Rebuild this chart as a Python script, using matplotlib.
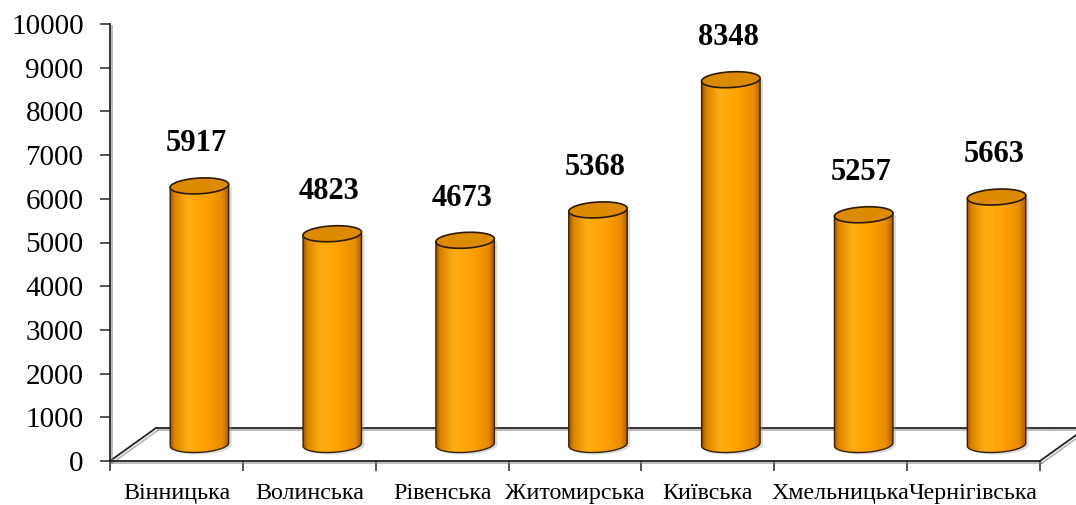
import numpy as np
import matplotlib
matplotlib.use("Agg")
import matplotlib.pyplot as plt
from matplotlib.path import Path
from matplotlib.patches import PathPatch
from matplotlib.colors import LinearSegmentedColormap
import matplotlib.patheffects as pe
import matplotlib.transforms as mtransforms

plt.rcParams['font.family'] = ['Liberation Serif', 'DejaVu Serif']

regions = ['Вінницька', 'Волинська', 'Рівенська', 'Житомирська',
           'Київська', 'Хмельницька', 'Чернігівська']
values = [5917, 4823, 4673, 5368, 8348, 5257, 5663]
yticks = list(range(0, 10001, 1000))

# 3d floor depth (x in category units, y in value units)
depth_x = 0.346
depth_y = 755
cyl_w = 0.44
ell_h = 360
tilt = 35   # slight rotation of the end caps

fig = plt.figure(figsize=(10.76, 5.05), dpi=100)
ax = fig.add_axes([110 / 1076, 44 / 505, 930 / 1076, 437 / 505])

cyl_cmap = LinearSegmentedColormap.from_list('cyl', [
    (0.0, '#9a5200'), (0.07, '#d98200'), (0.3, '#ffad14'),
    (0.6, '#ffa200'), (0.88, '#e98c00'), (1.0, '#a85a00')])
grad = np.linspace(0, 1, 256)[None, :]

line_shadow = [pe.SimpleLineShadow(offset=(1.5, -1.5), shadow_color='#888888', alpha=0.6),
               pe.Normal()]

# floor of the 3d plot
n = len(regions)
floor_kw = dict(color='#222222', lw=1.3, zorder=1, clip_on=False, path_effects=line_shadow)
ax.plot([0, depth_x], [0, depth_y], **floor_kw)
ax.plot([depth_x, n + depth_x], [depth_y, depth_y], **floor_kw)
ax.plot([n, n + depth_x], [0, depth_y], **floor_kw)

shadow_tr = mtransforms.offset_copy(ax.transData, fig, x=3, y=-2, units='dots')


def cap(cx, cy, t):
    return np.column_stack([cx + cyl_w / 2 * np.cos(t),
                            cy + ell_h / 2 * np.sin(t) + tilt * np.cos(t)])


base = depth_y / 2
t_low = np.linspace(np.pi, 2 * np.pi, 60)
t_full = np.linspace(0, 2 * np.pi, 120)
for i, v in enumerate(values):
    cx = i + 0.5 + depth_x / 2
    top = base + v
    left, right = cx - cyl_w / 2, cx + cyl_w / 2
    arc = cap(cx, base, t_low)
    body = np.vstack([arc, [[right, top + tilt], [left, top - tilt]], arc[:1]])
    body_path = Path(body, closed=True)

    shadow = PathPatch(body_path, facecolor='#999999', edgecolor='none', alpha=0.35,
                       transform=shadow_tr, zorder=2)
    ax.add_patch(shadow)

    clip = PathPatch(body_path, transform=ax.transData, facecolor='none', edgecolor='none')
    ax.add_patch(clip)
    im = ax.imshow(grad, extent=[left, right, base - ell_h, top + tilt], cmap=cyl_cmap,
                   aspect='auto', interpolation='bicubic', zorder=3)
    im.set_clip_path(clip)

    outline = np.vstack([[[left, top - tilt]], arc, [[right, top + tilt]]])
    ax.plot(outline[:, 0], outline[:, 1], color='#3a2200', lw=1.0, zorder=4)
    ax.add_patch(PathPatch(Path(cap(cx, top, t_full), closed=True), facecolor='#dc8a00',
                           edgecolor='#2e1a00', lw=1.2, zorder=5))

    ax.annotate(f'{v}', (cx, top), xytext=(-2, 20), textcoords='offset points',
                ha='center', va='bottom', fontsize=22, fontweight='bold', zorder=6)

ax.set_xlim(0, n)
ax.set_ylim(0, 10000)

for s in ['top', 'right']:
    ax.spines[s].set_visible(False)
for s in ['left', 'bottom']:
    ax.spines[s].set_color('#222222')
    ax.spines[s].set_linewidth(1.3)
    ax.spines[s].set_path_effects(line_shadow)

ax.set_yticks(yticks)
ax.set_yticklabels([str(y) for y in yticks])
ax.tick_params(axis='y', length=7, width=1.1, color='#222222', pad=12, labelsize=21)

ax.set_xticks(range(n + 1))
ax.set_xticklabels([])
ax.set_xticks([i + 0.5 for i in range(n)], minor=True)
ax.set_xticklabels(regions, minor=True)
ax.tick_params(axis='x', which='major', length=7, width=1.1, color='#222222')
ax.tick_params(axis='x', which='minor', length=0, pad=16, labelsize=17.3)

fig.savefig('out.png', dpi=100)
